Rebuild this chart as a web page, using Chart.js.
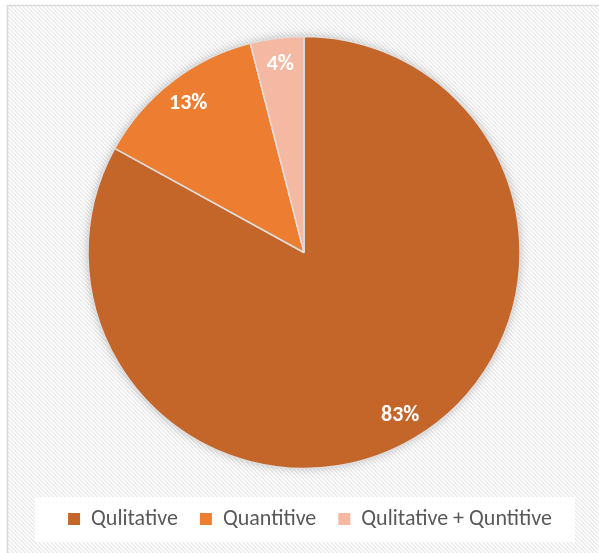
<!DOCTYPE html>
<html>
<head>
<meta charset="utf-8">
<script src="https://cdn.jsdelivr.net/npm/chart.js@4/dist/chart.umd.min.js"></script>
<style>
  html, body { margin: 0; padding: 0; background: #fff; overflow: hidden; }
  #wrap { width: 599px; height: 553px; }
</style>
</head>
<body>
<div id="wrap"><canvas id="pieChart"></canvas></div>
<script>
// Data
const categories = ["Qulitative", "Quantitive", "Qulitative + Quntitive"];
const shares = [83, 13, 4];
const sliceColors = ["#C4652A", "#ED7D31", "#F4B8A3"];

const FONT = "Carlito, Lato, 'Open Sans', sans-serif";

// Striped chart background, border, white legend backdrop
const backdrop = {
  id: "backdrop",
  beforeDraw(chart) {
    const ctx = chart.ctx;
    const tile = document.createElement("canvas");
    tile.width = 4;
    tile.height = 4;
    const t = tile.getContext("2d");
    t.fillStyle = "#ffffff";
    t.fillRect(0, 0, 4, 4);
    t.fillStyle = "#ebebeb";
    for (let y = 0; y < 4; y++) {
      for (let x = 0; x < 4; x++) {
        if ((x - y + 8) % 4 < 2) t.fillRect(x, y, 1, 1);
      }
    }
    ctx.save();
    ctx.fillStyle = "#ffffff";
    ctx.fillRect(0, 0, chart.width, chart.height);
    ctx.fillStyle = ctx.createPattern(tile, "repeat");
    ctx.fillRect(8, 6, chart.width, chart.height);
    ctx.strokeStyle = "#d9d9d9";
    ctx.lineWidth = 1.5;
    ctx.strokeRect(7.5, 5.5, chart.width + 20, chart.height + 20);
    // legend backdrop
    ctx.fillStyle = "#ffffff";
    ctx.fillRect(35, 497, 540, 45);
    ctx.restore();
  },
  beforeDatasetsDraw(chart) {
    const arc = chart.getDatasetMeta(0).data[0];
    if (!arc) return;
    const { x, y, outerRadius } = arc.getProps(["x", "y", "outerRadius"], true);
    const ctx = chart.ctx;
    ctx.save();
    ctx.shadowColor = "rgba(0,0,0,0.25)";
    ctx.shadowBlur = 10;
    ctx.fillStyle = sliceColors[0];
    ctx.beginPath();
    ctx.arc(x, y, outerRadius, 0, Math.PI * 2);
    ctx.fill();
    ctx.restore();
  },
  afterLayout(chart) {
    // legend sits a little right of the pie centre
    chart.legend.left += 6;
    chart.legend.right += 6;
  },
};

// Percent labels inside the slices
const sliceLabels = {
  id: "sliceLabels",
  afterDatasetsDraw(chart) {
    const ctx = chart.ctx;
    const meta = chart.getDatasetMeta(0);
    ctx.save();
    ctx.fillStyle = "#ffffff";
    ctx.font = "bold 22px " + FONT;
    ctx.textAlign = "center";
    ctx.textBaseline = "middle";
    meta.data.forEach((arc, i) => {
      const p = arc.getProps(["x", "y", "startAngle", "endAngle", "outerRadius"], true);
      const mid = (p.startAngle + p.endAngle) / 2;
      const r = p.outerRadius * 0.875;
      ctx.fillText(shares[i] + "%", p.x + Math.cos(mid) * r, p.y + Math.sin(mid) * r);
    });
    ctx.restore();
  },
};

const ctx = document.getElementById("pieChart").getContext("2d");
const pieChart = new Chart(ctx, {
  type: "pie",
  data: {
    labels: categories,
    datasets: [
      {
        data: shares,
        backgroundColor: sliceColors,
        borderColor: "#dedede",
        borderWidth: 1.5,
      },
    ],
  },
  options: {
    responsive: true,
    maintainAspectRatio: false,
    animation: false,
    radius: 216,
    layout: {
      padding: { top: 19, left: 9, right: 0, bottom: 13 },
    },
    plugins: {
      legend: {
        position: "bottom",
        labels: {
          boxWidth: 12,
          boxHeight: 12,
          padding: 22,
          color: "#595959",
          font: { family: FONT, size: 22 },
          generateLabels: function (chart) {
            const items = Chart.overrides.pie.plugins.legend.labels.generateLabels(chart);
            return items.map((item) => {
              item.lineWidth = 0;
              item.strokeStyle = item.fillStyle;
              return item;
            });
          },
        },
      },
      tooltip: { enabled: false },
    },
  },
  plugins: [backdrop, sliceLabels],
});
</script>
</body>
</html>
